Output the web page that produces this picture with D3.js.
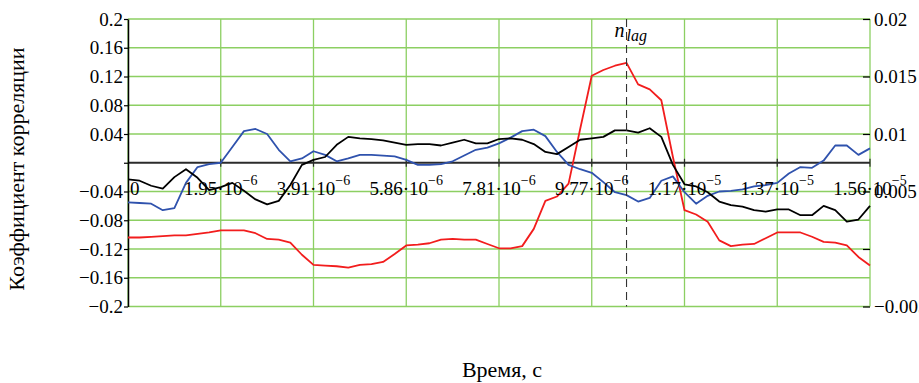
<!DOCTYPE html>
<html>
<head>
<meta charset="utf-8">
<script src="https://cdn.jsdelivr.net/npm/d3@7"></script>
<style>
  html, body { margin: 0; padding: 0; background: #fff; }
  svg { display: block; }
  svg text { font-family: "Liberation Serif", "Times New Roman", serif !important; fill: #000; }
</style>
</head>
<body>
<svg id="chart" width="919" height="383"></svg>
<script>
// Cross-correlation coefficients, 65 samples (index 0..64)
const blackSeries = [
  -0.023, -0.025, -0.032, -0.036, -0.020, -0.009, -0.021, -0.038, -0.034, -0.028,
  -0.039, -0.051, -0.058, -0.053, -0.031, -0.003, 0.004, 0.008, 0.025, 0.036,
  0.034, 0.033, 0.031, 0.028, 0.025, 0.026, 0.026, 0.024, 0.028, 0.032,
  0.027, 0.027, 0.033, 0.034, 0.032, 0.026, 0.015, 0.012, 0.022, 0.032,
  0.034, 0.036, 0.045, 0.045, 0.042, 0.048, 0.036, -0.003, -0.030, -0.033,
  -0.041, -0.054, -0.059, -0.061, -0.066, -0.068, -0.065, -0.065, -0.073, -0.073,
  -0.060, -0.066, -0.082, -0.079, -0.060
];
const blueSeries = [
  -0.055, -0.056, -0.057, -0.066, -0.063, -0.028, -0.006, -0.002, 0.000, 0.022,
  0.044, 0.047, 0.040, 0.018, 0.002, 0.006, 0.016, 0.011, 0.002, 0.006,
  0.011, 0.011, 0.010, 0.009, 0.004, -0.003, -0.003, -0.002, 0.002, 0.010,
  0.018, 0.021, 0.027, 0.035, 0.044, 0.046, 0.037, 0.015, -0.003, -0.009,
  -0.014, -0.027, -0.041, -0.045, -0.054, -0.049, -0.025, -0.019, -0.041, -0.057,
  -0.046, -0.040, -0.039, -0.037, -0.033, -0.031, -0.028, -0.015, -0.006, -0.007,
  0.003, 0.024, 0.024, 0.011, 0.020
];
const redSeries = [
  -0.104, -0.104, -0.103, -0.102, -0.101, -0.101, -0.099, -0.097, -0.094, -0.094,
  -0.094, -0.098, -0.106, -0.107, -0.111, -0.128, -0.142, -0.143, -0.144, -0.146,
  -0.142, -0.141, -0.138, -0.127, -0.115, -0.114, -0.112, -0.107, -0.106, -0.107,
  -0.107, -0.113, -0.119, -0.119, -0.116, -0.092, -0.053, -0.047, -0.029, 0.047,
  0.121, 0.129, 0.135, 0.139, 0.109, 0.102, 0.087, 0.008, -0.066, -0.072,
  -0.082, -0.108, -0.116, -0.114, -0.113, -0.105, -0.097, -0.097, -0.097, -0.103,
  -0.110, -0.111, -0.115, -0.131, -0.143
];

// Sampling step of the time axis, seconds
const sampleStep = 2.44140625e-7;
const lagIndex = 43;

// Axis ticks and labels
const xTicks = [0, 1.953125e-6, 3.90625e-6, 5.859375e-6, 7.8125e-6, 9.765625e-6, 1.171875e-5, 1.3671875e-5, 1.5625e-5];
const xTickMantissa = ["0", "1.95", "3.91", "5.86", "7.81", "9.77", "1.17", "1.37", "1.56"];
const xTickExponent = [null, "\u22126", "\u22126", "\u22126", "\u22126", "\u22126", "\u22125", "\u22125", "\u22125"];
const leftTicks = [0.2, 0.16, 0.12, 0.08, 0.04, 0, -0.04, -0.08, -0.12, -0.16, -0.2];
const leftTickLabels = ["0.2", "0.16", "0.12", "0.08", "0.04", "", "\u22120.04", "\u22120.08", "\u22120.12", "\u22120.16", "\u22120.2"];
const rightTicks = [0.02, 0.015, 0.01, 0.005, 0, -0.005];
const rightTickLabels = ["0.02", "0.015", "0.01", "0.005", "", "\u22120.005"];

const serif = "'Liberation Serif', 'Times New Roman', serif";
const svg = d3.select("#chart");
const plotLeft = 128, plotRight = 870, plotTop = 19, plotBottom = 306.5;

const x = d3.scaleLinear().domain([0, 1.5625e-5]).range([plotLeft, plotRight]);
const y = d3.scaleLinear().domain([-0.2, 0.2]).range([plotBottom, plotTop]);
const yRight = d3.scaleLinear().domain([-0.005, 0.02]).range([plotBottom, plotTop]);

const gridColor = "#8ccf62";

// Grid
const grid = svg.append("g");
grid.selectAll("line.v").data(xTicks).join("line")
  .attr("class", "v")
  .attr("x1", d => x(d)).attr("x2", d => x(d))
  .attr("y1", plotTop).attr("y2", plotBottom)
  .attr("stroke", gridColor).attr("stroke-width", 1.3);
grid.selectAll("line.h").data(leftTicks.filter(d => d !== 0)).join("line")
  .attr("class", "h")
  .attr("x1", plotLeft).attr("x2", plotRight)
  .attr("y1", d => y(d)).attr("y2", d => y(d))
  .attr("stroke", gridColor).attr("stroke-width", 1.3);

// Horizontal zero axis with ticks
const y0 = y(0);
svg.append("line")
  .attr("x1", plotLeft).attr("x2", plotRight).attr("y1", y0).attr("y2", y0)
  .attr("stroke", "#2b2b2b").attr("stroke-width", 1.8);
svg.append("g").selectAll("line").data(xTicks.slice(1)).join("line")
  .attr("x1", d => x(d)).attr("x2", d => x(d))
  .attr("y1", y0 - 4).attr("y2", y0 + 4)
  .attr("stroke", "#2b2b2b").attr("stroke-width", 1.2);

// Left axis
const leftAxis = d3.axisLeft(y).tickValues(leftTicks).tickSize(4).tickSizeOuter(0).tickPadding(1)
  .tickFormat((d, i) => leftTickLabels[i]);
const gL = svg.append("g").attr("transform", `translate(${plotLeft},0)`).call(leftAxis)
  .attr("font-family", serif).attr("font-size", 19);
gL.select(".domain").attr("stroke", "#000").attr("stroke-width", 1.5);
gL.selectAll(".tick line").attr("stroke", "#000").attr("stroke-width", 1.2);
gL.selectAll(".tick text").style("font-family", serif).style("font-size", "19px").attr("fill", "#000");

// Right axis
const rightAxis = d3.axisRight(yRight).tickValues(rightTicks).tickSizeInner(-7).tickSizeOuter(0).tickPadding(4)
  .tickFormat((d, i) => rightTickLabels[i]);
const gR = svg.append("g").attr("transform", `translate(${plotRight},0)`).call(rightAxis)
  .attr("font-family", serif).attr("font-size", 19);
gR.select(".domain").attr("stroke", "none");
gR.selectAll(".tick line").attr("stroke", "#000").attr("stroke-width", 1.2);
gR.selectAll(".tick text").style("font-family", serif).style("font-size", "19px").attr("fill", "#000");

// Series
const line = d3.line().x((d, i) => x(i * sampleStep)).y(d => y(d));
const series = [
  { data: redSeries, color: "#f21d1d" },
  { data: blueSeries, color: "#2f52ad" },
  { data: blackSeries, color: "#000000" }
];
svg.append("g").selectAll("path").data(series).join("path")
  .attr("d", d => line(d.data))
  .attr("fill", "none")
  .attr("stroke", d => d.color)
  .attr("stroke-width", 1.8)
  .attr("stroke-linejoin", "round");

// Lag marker
const xLag = x(lagIndex * sampleStep);
svg.append("line")
  .attr("x1", xLag).attr("x2", xLag).attr("y1", plotTop).attr("y2", plotBottom)
  .attr("stroke", "#333").attr("stroke-width", 1.1).attr("stroke-dasharray", "8,5");
const lagLabel = svg.append("text").attr("x", xLag - 12).attr("y", 37)
  .style("font-family", serif).style("font-style", "italic").style("font-size", "20px");
lagLabel.append("tspan").text("n");
lagLabel.append("tspan").attr("dy", 4).attr("dx", 2).style("font-size", "16px").text("lag");

// X tick labels along the zero axis
const xl = svg.append("g").selectAll("text").data(xTicks).join("text")
  .attr("x", (d, i) => i === 0 ? x(d) + 2 : x(d))
  .attr("y", 195)
  .attr("text-anchor", (d, i) => i === 0 ? "start" : "middle")
  .style("font-family", serif)
  .style("font-size", "19px");
xl.each(function (d, i) {
  const t = d3.select(this);
  if (xTickExponent[i] === null) { t.text(xTickMantissa[i]); return; }
  t.append("tspan").text(xTickMantissa[i] + "\u00b710");
  t.append("tspan").attr("dy", -10).style("font-size", "14px").text(xTickExponent[i]);
});

// Axis titles
svg.append("text")
  .attr("transform", "translate(24,169) rotate(-90)")
  .attr("text-anchor", "middle")
  .style("font-family", serif)
  .style("font-size", "22px")
  .text("Коэффициент корреляции");
svg.append("text")
  .attr("x", 502).attr("y", 377)
  .attr("text-anchor", "middle")
  .style("font-family", serif)
  .style("font-size", "22px")
  .text("Время, с");
</script>
</body>
</html>
